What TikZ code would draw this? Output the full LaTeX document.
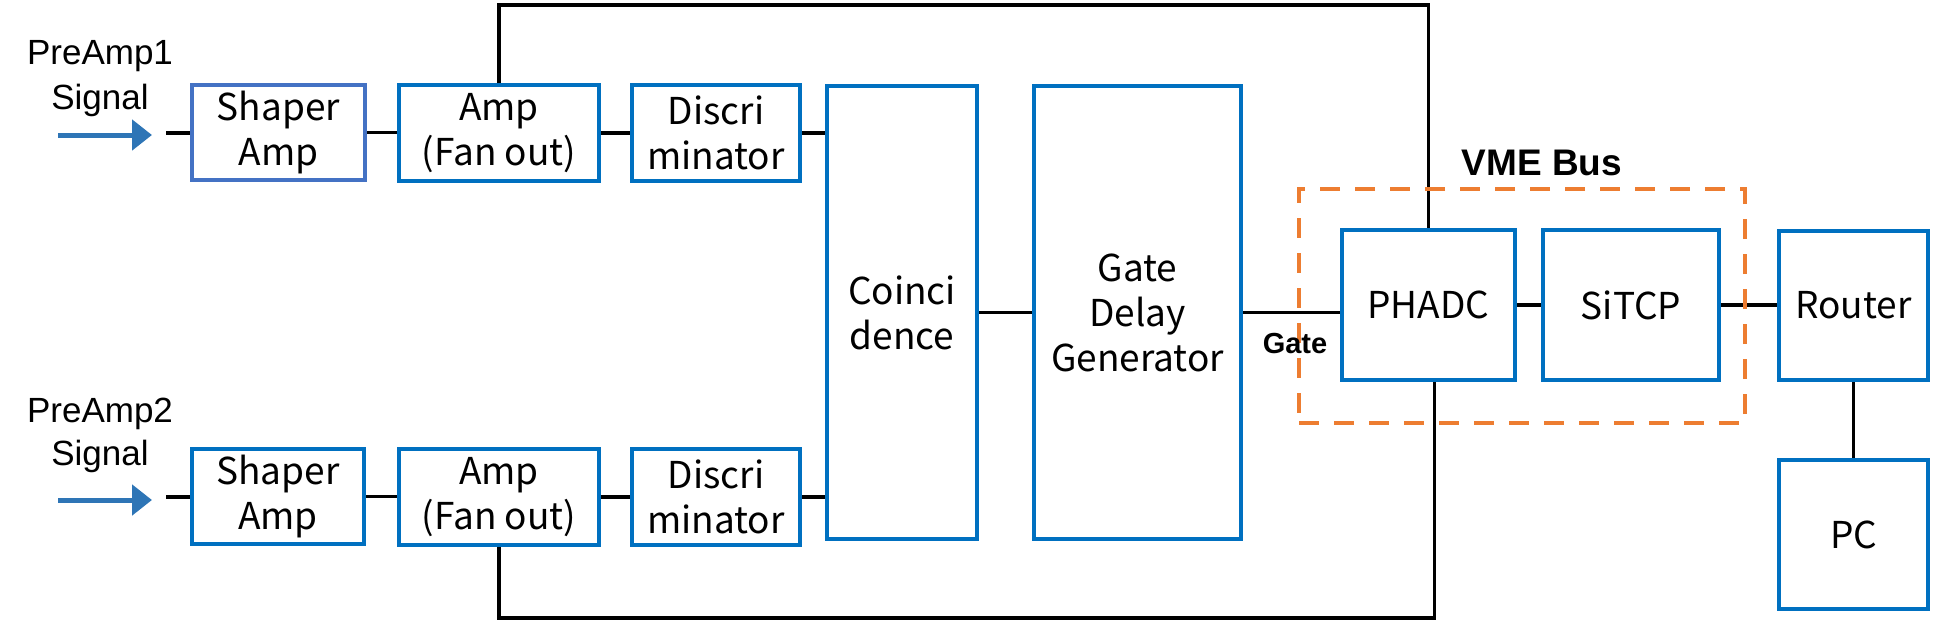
\documentclass[tikz,border=0pt]{standalone}
\usepackage{fontspec}
\setmainfont{Liberation Sans}
\newfontfamily\boxfont{Noto Sans CJK JP}
\usetikzlibrary{arrows.meta}
\definecolor{boxblue}{HTML}{0070C0}
\definecolor{boxblueb}{HTML}{4472C4}
\definecolor{vmeorange}{HTML}{ED7D31}
\definecolor{arrowblue}{HTML}{2E75B6}
\begin{document}
\begin{tikzpicture}[x=1pt,y=-1pt,
  box/.style={draw=boxblue, line width=4pt, inner sep=0pt, align=center,
    font=\boxfont\fontsize{37}{45}\selectfont},
  wire/.style={draw=black, line width=3.5pt},
  sigarrow/.style={draw=arrowblue, line width=5pt, -{Triangle[length=20pt,width=30pt]}},
  lbl/.style={align=center, inner sep=0pt, anchor=north},
  vmebox/.style={draw=vmeorange, line width=4pt, dash pattern=on 20pt off 15pt, inner sep=0pt},
  boldlbl/.style={inner sep=0pt, anchor=base, font=\bfseries}
]
\useasboundingbox (0,0) rectangle (1933,622);

% labels
\node[lbl, font=\fontsize{35}{45}\selectfont] (pre1) at (100,40) {PreAmp1\\Signal};
\node[lbl, font=\fontsize{35}{43}\selectfont] (pre2) at (100,398) {PreAmp2\\Signal};

% boxes row 1
\node[box, draw=boxblueb, minimum width=173pt, minimum height=95pt] (shaper1) at (278.5,132.5) {Shaper\\Amp};
\node[box, minimum width=200pt, minimum height=96pt] (amp1) at (499,133) {Amp\\(Fan out)};
\node[box, minimum width=168pt, minimum height=96pt] (discri1) at (716,133) {Discri\\minator};
% boxes row 2
\node[box, minimum width=172pt, minimum height=95pt] (shaper2) at (278,496.5) {Shaper\\Amp};
\node[box, minimum width=200pt, minimum height=96pt] (amp2) at (499,497) {Amp\\(Fan out)};
\node[box, minimum width=168pt, minimum height=96pt] (discri2) at (716,497) {Discri\\minator};
% tall boxes
\node[box, minimum width=150pt, minimum height=453pt] (coinc) at (902,312.5) {Coinci\\dence};
\node[box, minimum width=207pt, minimum height=453pt] (gdg) at (1137.5,312.5) {Gate\\Delay\\Generator};
% right boxes
\node[box, minimum width=173pt, minimum height=150pt] (phadc) at (1428.5,305) {PHADC};
\node[box, minimum width=176pt, minimum height=150pt] (sitcp) at (1631,305) {SiTCP};
\node[box, minimum width=149pt, minimum height=149pt] (router) at (1853.5,305.5) {Router};
\node[box, minimum width=149pt, minimum height=149pt] (pc) at (1853.5,534.5) {PC};

% input arrows
\coordinate (a1s) at (58,135); \coordinate (a1e) at (152,135);
\coordinate (a2s) at (58,500); \coordinate (a2e) at (152,500);
\draw[sigarrow] (a1s) -- (a1e);
\draw[sigarrow] (a2s) -- (a2e);
\coordinate (s1in) at (166,133);
\coordinate (s2in) at (166,497);
\draw[wire] (s1in) -- (s1in -| shaper1.west);
\draw[wire] (s2in) -- (s2in -| shaper2.west);

% chain wires
\draw[wire] (shaper1.east) -- (shaper1.east -| amp1.west);
\draw[wire] (amp1.east) -- (amp1.east -| discri1.west);
\draw[wire] (discri1.east) -- (discri1.east -| coinc.west);
\draw[wire] (shaper2.east) -- (shaper2.east -| amp2.west);
\draw[wire] (amp2.east) -- (amp2.east -| discri2.west);
\draw[wire] (discri2.east) -- (discri2.east -| coinc.west);
\draw[wire] (coinc.east) -- (coinc.east -| gdg.west);
\draw[wire] (gdg.east) -- (gdg.east -| phadc.west);
\draw[wire] (phadc.east) -- (phadc.east -| sitcp.west);
\draw[wire] (sitcp.east) -- (sitcp.east -| router.west);
\draw[wire] (router.south) -- (pc.north);

% loop wires
\coordinate (topy) at (0,5);
\coordinate (boty) at (0,618);
\coordinate (phb) at ([xshift=6pt]phadc.south);
\draw[wire] (amp1.north) |- (topy -| phadc.north) -- (phadc.north);
\draw[wire] (amp2.south) |- (boty -| phb) -- (phb);

% VME bus
\node[vmebox, minimum width=446pt, minimum height=234pt] (vme) at (1522,306) {};
\node[boldlbl, font=\bfseries\fontsize{37}{44}\selectfont] (vmelbl) at (1542,175) {VME Bus};
\node[boldlbl, font=\bfseries\fontsize{29}{34}\selectfont] (gatelbl) at (1295,353) {Gate};
\end{tikzpicture}
\end{document}
